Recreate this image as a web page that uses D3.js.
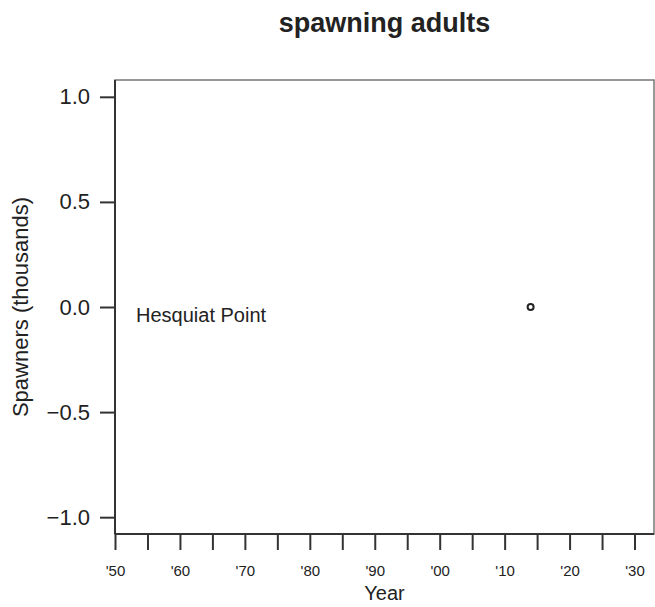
<!DOCTYPE html>
<html>
<head>
<meta charset="utf-8">
<script src="https://cdn.jsdelivr.net/npm/d3@7"></script>
<style>
  body { margin: 0; background: #fff; }
  text { font-family: "Liberation Sans", Arial, sans-serif; fill: #222; }
</style>
</head>
<body>
<div id="chart-area"></div>
<script>
// Data
let years = [2014];
let spawners = [0];
let siteName = 'Hesquiat Point';
let xTicks = [1950, 1955, 1960, 1965, 1970, 1975, 1980, 1985, 1990, 1995, 2000, 2005, 2010, 2015, 2020, 2025, 2030];
let yTicks = [-1, -0.5, 0, 0.5, 1];

// SVG drawing area
let margin = { top: 80, right: 1, bottom: 73, left: 115 };
let width = 655 - margin.left - margin.right,
  height = 607 - margin.top - margin.bottom;

let root = d3
  .select('#chart-area')
  .append('svg')
  .attr('width', 655)
  .attr('height', 607);

let svg = root
  .append('g')
  .attr('transform', 'translate(' + margin.left + ',' + margin.top + ')');

// Scales
let x = d3.scaleLinear().domain([1950, 2033]).range([0, width]);
let y = d3.scaleLinear().domain([-1.08, 1.08]).range([height, 0]);

// Box
svg
  .append('rect')
  .attr('width', width)
  .attr('height', height)
  .attr('fill', 'none')
  .attr('stroke', '#777')
  .attr('stroke-width', 1.5);

// Y axis
let yAxis = svg
  .append('g')
  .call(d3.axisLeft(y).tickValues(yTicks).tickSize(15).tickPadding(10).tickFormat(d3.format('.1f')));
yAxis.select('.domain').attr('stroke', '#333').attr('stroke-width', 2).attr('d', `M0,0V${height}`);
yAxis.selectAll('.tick line').attr('stroke', '#333').attr('stroke-width', 2);
yAxis
  .selectAll('.tick text')
  .style('font-size', '22px')
  .attr('fill', '#222')
  .text(d => (d < 0 ? '\u2212' : '') + d3.format('.1f')(Math.abs(d)));

// X axis
let labelFor = d => (d % 10 === 0 ? "'" + String(d).slice(2) : '');
let xAxis = svg
  .append('g')
  .attr('transform', `translate(0, ${height})`)
  .call(d3.axisBottom(x).tickValues(xTicks).tickSize(16).tickPadding(15).tickFormat(labelFor));
xAxis.select('.domain').attr('stroke', '#333').attr('stroke-width', 2).attr('d', `M0,0H${width}`);
xAxis.selectAll('.tick line').attr('stroke', '#333').attr('stroke-width', 2);
xAxis.selectAll('.tick text').style('font-size', '15px').attr('fill', '#222');

// Axis titles
root
  .append('text')
  .attr('x', margin.left + width / 2)
  .attr('y', 32)
  .attr('text-anchor', 'middle')
  .style('font-size', '27px')
  .style('font-weight', 'bold')
  .text('spawning adults');

root
  .append('text')
  .attr('x', margin.left + width / 2)
  .attr('y', 600)
  .attr('text-anchor', 'middle')
  .style('font-size', '20px')
  .text('Year');

root
  .append('text')
  .attr('transform', `translate(28, ${margin.top + height / 2}) rotate(-90)`)
  .attr('text-anchor', 'middle')
  .style('font-size', '22px')
  .text('Spawners (thousands)');

// Site label
svg
  .append('text')
  .attr('x', 21)
  .attr('y', y(0) + 15)
  .style('font-size', '20px')
  .text(siteName);

// Points
svg
  .selectAll('.point')
  .data(years)
  .enter()
  .append('circle')
  .attr('class', 'point')
  .attr('cx', (d, i) => x(d))
  .attr('cy', (d, i) => y(spawners[i]))
  .attr('r', 3)
  .attr('fill', 'none')
  .attr('stroke', '#222')
  .attr('stroke-width', 2);
</script>
</body>
</html>
